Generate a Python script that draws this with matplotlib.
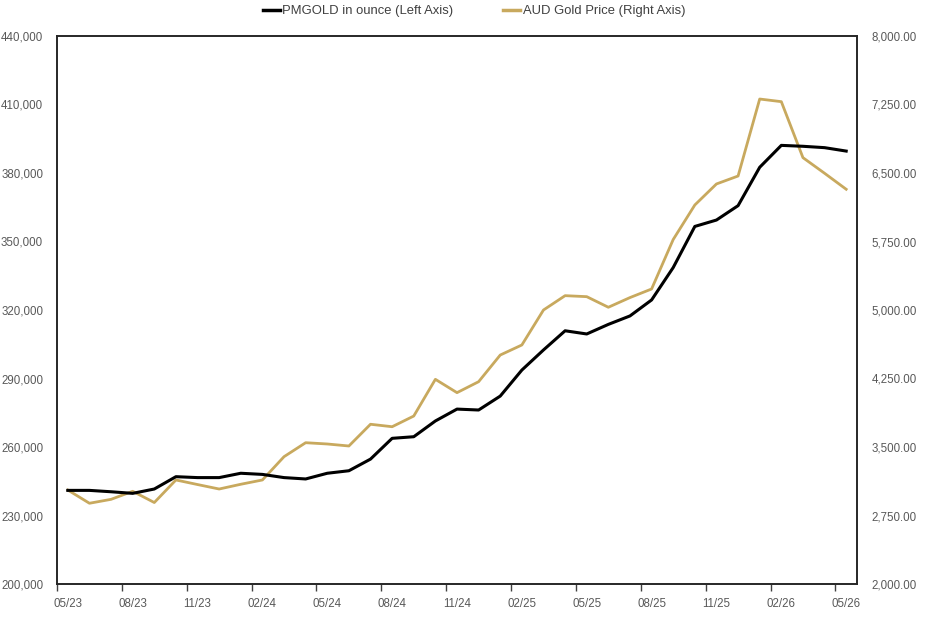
import matplotlib
matplotlib.use("Agg")
import matplotlib.pyplot as plt
from matplotlib.ticker import FuncFormatter, FixedLocator
from matplotlib.lines import Line2D

months = ["05/23", "06/23", "07/23", "08/23", "09/23", "10/23", "11/23", "12/23",
          "01/24", "02/24", "03/24", "04/24", "05/24", "06/24", "07/24", "08/24",
          "09/24", "10/24", "11/24", "12/24", "01/25", "02/25", "03/25", "04/25",
          "05/25", "06/25", "07/25", "08/25", "09/25", "10/25", "11/25", "12/25",
          "01/26", "02/26", "03/26", "04/26", "05/26"]

pmgold = [241000, 241000, 240400, 239700, 241600, 247000, 246600, 246600,
          248500, 248000, 246600, 246000, 248500, 249600, 254700, 263800,
          264500, 271400, 276600, 276200, 282300, 293700, 302500, 310900,
          309500, 313700, 317400, 324400, 338600, 356600, 359400, 365700,
          382500, 392100, 391700, 391100, 389600]

aud_gold = [3029, 2884, 2927, 3015, 2892, 3139, 3089, 3040,
            3092, 3139, 3394, 3547, 3533, 3511, 3749, 3722,
            3839, 4241, 4095, 4215, 4507, 4617, 5000, 5157,
            5146, 5030, 5136, 5230, 5772, 6150, 6380, 6467,
            7310, 7281, 6668, 6497, 6322]

left_ticks = [200000, 230000, 260000, 290000, 320000, 350000, 380000, 410000, 440000]
right_ticks = [2000, 2750, 3500, 4250, 5000, 5750, 6500, 7250, 8000]

GOLD = "#C8A95E"
TXT = "#595959"
FONT = "Liberation Sans"
TS = 8.3

fig = plt.figure(figsize=(9.36, 6.25), dpi=100)
ax = fig.add_axes([57/936, 1-584/625, 800/936, 548/625])
ax2 = ax.twinx()

x = list(range(len(months)))
ax.plot(x, pmgold, color="black", lw=2.2, zorder=3)
ax2.plot(x, aud_gold, color=GOLD, lw=2.0, zorder=2)
ax.set_zorder(ax2.get_zorder() + 1)
ax.patch.set_visible(False)

ax.set_xlim(-0.5, len(months) - 0.5)
ax.set_ylim(left_ticks[0], left_ticks[-1])
ax2.set_ylim(right_ticks[0], right_ticks[-1])

ax.xaxis.set_major_locator(FixedLocator([i - 0.5 for i in range(0, len(months), 3)]))
ax.xaxis.set_major_formatter(FuncFormatter(lambda v, p: ""))
ax.xaxis.set_minor_locator(FixedLocator(list(range(0, len(months), 3))))
ax.set_xticklabels([months[i] for i in range(0, len(months), 3)], minor=True)
ax.tick_params(axis="x", which="major", direction="out", length=5, width=1, color="#404040")
ax.tick_params(axis="x", which="minor", length=0, pad=10, labelsize=TS, labelcolor=TXT)

ax.set_yticks(left_ticks)
ax.yaxis.set_major_formatter(FuncFormatter(lambda v, p: f"{v:,.0f}"))
ax.tick_params(axis="y", length=0, pad=10, labelsize=TS, labelcolor=TXT)

ax2.set_yticks(right_ticks)
ax2.yaxis.set_major_formatter(FuncFormatter(lambda v, p: f"{v:,.2f}"))
ax2.tick_params(axis="y", length=0, pad=10.5, labelsize=TS, labelcolor=TXT)

for lab in ax.get_xticklabels(minor=True) + ax.get_yticklabels() + ax2.get_yticklabels():
    lab.set_fontfamily(FONT)

for a in (ax, ax2):
    for s in a.spines.values():
        s.set_color("#262626")
        s.set_linewidth(1.2)

handles = [Line2D([0], [0], color="black", lw=2.5),
           Line2D([0], [0], color=GOLD, lw=2.5)]
fig.legend(handles, ["PMGOLD in ounce (Left Axis)", "AUD Gold Price (Right Axis)"],
           loc="center", bbox_to_anchor=(474/936, 1 - 11/625), ncol=2, frameon=False,
           handlelength=1.3, handletextpad=0.2, columnspacing=3.8,
           prop={"family": FONT, "size": 9.4}, labelcolor="#404040")

fig.savefig("out.png", dpi=100)
